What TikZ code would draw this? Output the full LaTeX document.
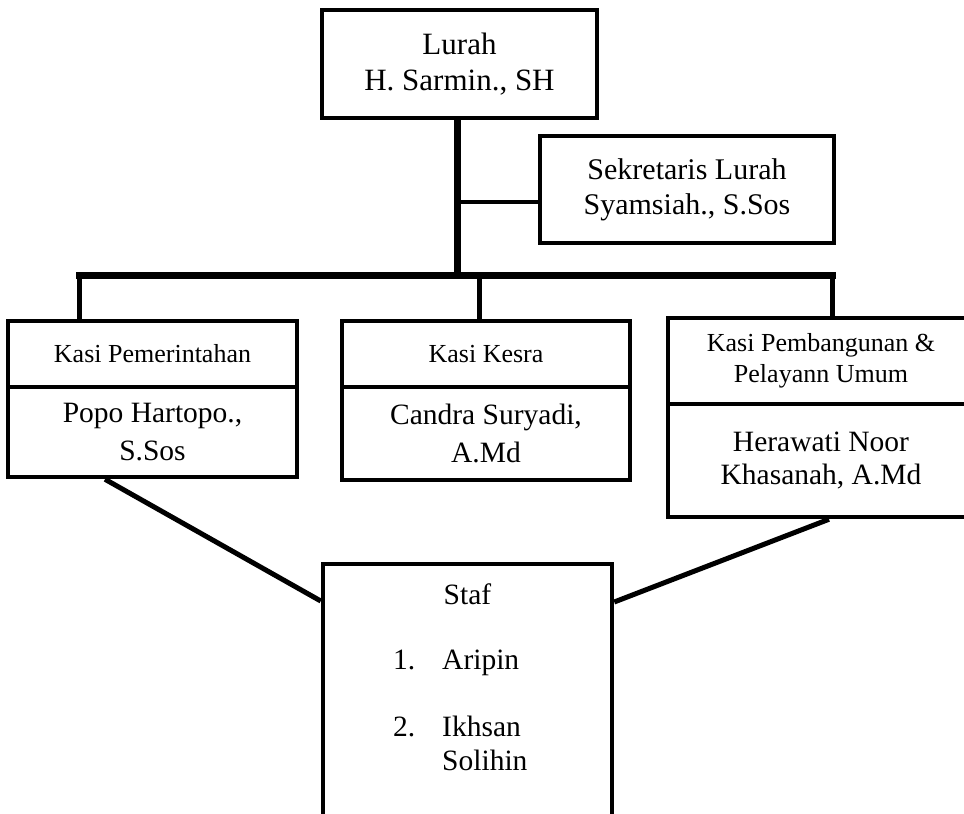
\documentclass[tikz,border=0pt]{standalone}
\usepackage{fontspec}
\setmainfont{Liberation Serif}
\begin{document}
\begin{tikzpicture}[x=1pt,y=-1pt,
  box/.style={draw, line width=4.5pt, rectangle, inner sep=0pt, align=center},
  titlefont/.style={font=\fontsize{26}{31}\selectfont},
  namefont/.style={font=\fontsize{29.5}{38}\selectfont},
  trunk/.style={line width=7pt, line cap=rect},
  drop/.style={line width=5pt},
  link/.style={line width=4pt},
  diag/.style={line width=5pt},
  ]
\useasboundingbox (0,0) rectangle (964,814);
\clip (0,0) rectangle (964,814);

% boxes
\node[box, minimum width=275, minimum height=108, font=\fontsize{31}{36}\selectfont] (lurah) at (459.5,64) {Lurah\\H. Sarmin., SH};
\node[box, minimum width=294, minimum height=107, font=\fontsize{30}{35}\selectfont] (sek) at (687,189.5) {Sekretaris Lurah\\Syamsiah., S.Sos};

\node[box, titlefont, minimum width=289, minimum height=66] (kp1) at (152.5,354) {Kasi Pemerintahan};
\node[box, namefont, minimum width=289, minimum height=90] (kp2) at (152.5,432) {Popo Hartopo.,\\S.Sos};

\node[box, titlefont, minimum width=288, minimum height=66] (kk1) at (486,354) {Kasi Kesra};
\node[box, namefont, minimum width=288, minimum height=93] (kk2) at (486,433.5) {Candra Suryadi,\\A.Md};

\node[box, titlefont, minimum width=306, minimum height=86] (kb1) at (821,361) {Kasi Pembangunan \&\\Pelayann Umum};
\node[box, namefont, font=\fontsize{29.5}{33}\selectfont, minimum width=306, minimum height=113] (kb2) at (821,460.5) {Herawati Noor\\Khasanah, A.Md};

\node[box, minimum width=289, minimum height=336] (staf) at (467.5,732) {};
\node[anchor=base, inner sep=0pt, font=\fontsize{29.5}{34}\selectfont] (staftitle) at (467.5,604) {Staf};
\node[anchor=base west, inner sep=0pt, font=\fontsize{29.5}{34}\selectfont] (staflist) at (393,669)
  {\begin{tabular}[t]{@{}p{49pt}@{}l@{}}1. & Aripin\\[33pt] 2. & Ikhsan\\ & Solihin\end{tabular}};

% connector coordinates
\coordinate (j) at (457,275);
\coordinate (barL) at (79,275);
\coordinate (barR) at (832.5,275);
\coordinate (mid) at (479.5,275);
\coordinate (sj) at (457,202);
\coordinate (d1) at (105,601);
\coordinate (d2) at (829,602);

% trunk and bar
\draw[trunk] (lurah.south -| j) -- (j);
\draw[trunk] (barL) -- (barR);
\draw[link] (sj) -- (sj -| sek.west);
\draw[drop] (barL) -- (barL |- kp1.north);
\draw[drop] (mid) -- (mid |- kk1.north);
\draw[drop] (barR) -- (barR |- kb1.north);

% diagonals to staf
\draw[diag] (kp2.south -| d1) -- (staf.west |- d1);
\draw[diag] (kb2.south -| d2) -- (staf.east |- d2);
\end{tikzpicture}
\end{document}
